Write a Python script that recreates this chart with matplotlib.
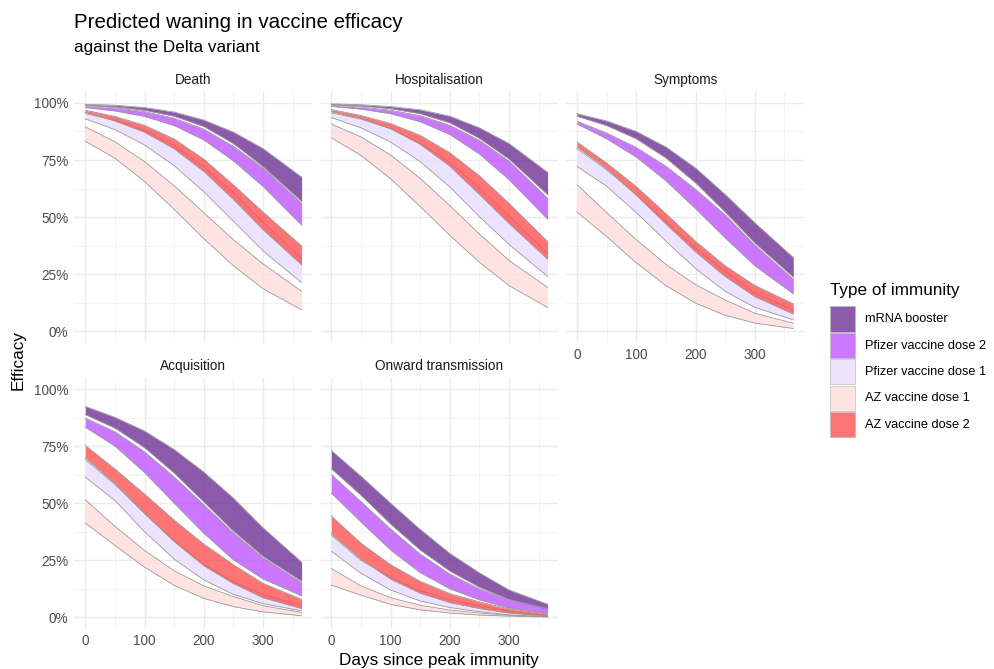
import matplotlib.pyplot as plt
from matplotlib.patches import Rectangle
from matplotlib.ticker import FixedLocator, FuncFormatter

plt.rcParams['font.family'] = ['Liberation Sans', 'DejaVu Sans']

days = [0, 50, 100, 150, 200, 250, 300, 365]

immunity = ['mRNA booster', 'Pfizer vaccine dose 2', 'Pfizer vaccine dose 1',
            'AZ vaccine dose 1', 'AZ vaccine dose 2']
fills = ['#6F3195', '#BF55FF', '#EADDFF', '#FFDDDD', '#FF5252']

outcomes = ['Death', 'Hospitalisation', 'Symptoms', 'Acquisition', 'Onward transmission']

# upper / lower bounds (%), rows in the order of `immunity`
death_hi = [[99.4, 99.0, 98.0, 96.0, 92.5, 87.2, 80.0, 67.5],
            [98.8, 97.9, 96.2, 93.3, 88.5, 81.0, 71.5, 56.1],
            [95.3, 92.4, 87.9, 81.3, 72.1, 60.8, 47.7, 32.0],
            [89.5, 83.0, 74.3, 63.7, 51.9, 40.1, 29.5, 17.5],
            [96.8, 94.1, 90.2, 84.2, 75.4, 64.1, 52.2, 37.4]]
death_lo = [[99.1, 98.3, 96.8, 94.2, 89.7, 82.2, 72.1, 56.9],
            [98.0, 96.5, 94.1, 90.1, 83.8, 74.6, 63.4, 46.5],
            [93.0, 88.3, 81.6, 72.5, 61.1, 48.2, 35.2, 21.3],
            [83.2, 75.8, 65.6, 53.4, 40.6, 28.7, 18.6, 9.4],
            [95.9, 92.1, 87.2, 79.9, 70.0, 57.7, 44.5, 29.1]]

hosp_hi = [[99.6, 99.2, 98.4, 97.0, 94.2, 89.1, 82.2, 69.6],
           [99.0, 98.2, 96.8, 94.4, 90.2, 83.6, 74.5, 58.3],
           [95.6, 92.9, 88.7, 82.5, 73.9, 62.9, 50.5, 34.2],
           [90.8, 85.1, 77.2, 67.0, 55.0, 42.6, 31.0, 19.2],
           [97.1, 94.5, 91.0, 85.8, 78.2, 68.1, 56.0, 39.3]]
hosp_lo = [[99.3, 98.7, 97.5, 95.3, 91.3, 84.5, 75.4, 59.8],
           [98.5, 97.3, 95.3, 91.8, 86.2, 77.6, 66.4, 49.1],
           [93.6, 89.1, 82.9, 74.3, 63.2, 50.2, 38.0, 24.0],
           [84.7, 77.0, 66.8, 54.6, 42.0, 30.2, 20.0, 10.4],
           [96.2, 93.2, 88.7, 81.9, 72.3, 59.9, 47.2, 31.6]]

symp_hi = [[95.3, 92.1, 87.5, 80.7, 71.5, 59.9, 47.5, 32.3],
           [92.0, 86.8, 80.5, 72.3, 62.2, 51.0, 37.8, 22.8],
           [80.0, 70.7, 59.9, 48.0, 36.4, 26.3, 16.8, 9.4],
           [64.2, 52.0, 40.1, 29.3, 20.4, 13.7, 7.9, 3.5],
           [82.9, 73.7, 63.4, 51.5, 39.4, 28.7, 20.1, 12.0]]
symp_lo = [[94.2, 90.1, 84.3, 75.9, 65.0, 52.2, 38.7, 23.7],
           [90.8, 84.3, 76.3, 65.9, 53.7, 40.9, 28.7, 16.4],
           [72.2, 63.5, 52.0, 39.5, 27.5, 17.5, 10.5, 5.0],
           [52.2, 41.5, 30.0, 20.0, 12.3, 7.0, 3.6, 1.2],
           [80.7, 71.3, 59.6, 47.0, 34.8, 24.0, 15.2, 7.6]]

acq_hi = [[92.4, 87.6, 81.6, 73.5, 63.6, 52.2, 39.2, 24.2],
          [87.3, 81.3, 72.5, 61.5, 49.3, 37.0, 26.1, 15.3],
          [69.1, 58.2, 45.5, 33.6, 23.3, 15.6, 10.0, 5.4],
          [51.5, 39.9, 29.3, 20.4, 13.8, 9.1, 5.1, 2.2],
          [75.3, 65.0, 54.0, 42.6, 32.1, 23.1, 14.9, 7.9]]
acq_lo = [[88.8, 82.9, 74.3, 63.2, 50.5, 37.8, 26.7, 15.9],
          [83.3, 75.0, 63.4, 50.0, 36.8, 25.2, 16.8, 9.5],
          [61.4, 51.2, 37.5, 25.5, 16.4, 10.1, 6.0, 2.9],
          [41.3, 31.5, 22.0, 14.0, 8.3, 4.7, 2.4, 0.7],
          [69.9, 58.7, 45.5, 33.2, 22.6, 14.8, 8.6, 3.9]]

onward_hi = [[73.1, 61.8, 50.0, 38.5, 28.0, 19.5, 12.0, 5.8],
             [62.6, 50.7, 38.7, 27.7, 19.0, 12.5, 7.7, 3.9],
             [36.0, 25.0, 17.4, 11.7, 7.7, 5.0, 2.8, 0.9],
             [21.4, 13.8, 8.6, 5.3, 3.2, 1.9, 0.9, 0.3],
             [44.4, 32.5, 23.1, 15.8, 10.4, 6.8, 3.7, 1.5]]
onward_lo = [[65.1, 53.5, 40.9, 29.5, 20.3, 13.2, 7.8, 3.6],
             [54.4, 41.8, 29.5, 19.6, 12.5, 7.7, 4.1, 1.7],
             [29.0, 19.3, 12.0, 7.2, 4.3, 2.5, 1.1, 0.3],
             [14.1, 9.7, 5.7, 3.3, 1.9, 1.0, 0.55, 0.15],
             [36.7, 25.5, 16.8, 10.6, 6.5, 3.9, 1.9, 0.6]]

bounds = [(death_hi, death_lo), (hosp_hi, hosp_lo), (symp_hi, symp_lo),
          (acq_hi, acq_lo), (onward_hi, onward_lo)]

fig = plt.figure(figsize=(9.95, 6.69), dpi=100)

W, H = 995, 669
lefts = [74.5, 320.5, 566.2]
pw = 237.9 / W
ph = 0.3755
bottoms = [1 - 342.7 / H, 1 - 628.8 / H]

pct = FuncFormatter(lambda v, pos: f'{v * 100:.0f}%')

for k, (name, (hi, lo)) in enumerate(zip(outcomes, bounds)):
    row, col = divmod(k, 3)
    ax = fig.add_axes([lefts[col] / W, bottoms[row], pw, ph])
    for i in range(len(immunity)):
        h = [v / 100 for v in hi[i]]
        l = [v / 100 for v in lo[i]]
        z = 2 + 2 * i
        ax.fill_between(days, l, h, color=fills[i], alpha=0.8, lw=0, zorder=z)
        ax.plot(days, h, color='#9A9A9A', lw=0.6, zorder=z + 1)
        ax.plot(days, l, color='#9A9A9A', lw=0.6, zorder=z + 1)

    ax.set_xlim(-18.25, 383.25)
    ax.set_ylim(-0.05, 1.05)
    ax.xaxis.set_major_locator(FixedLocator([0, 100, 200, 300]))
    ax.xaxis.set_minor_locator(FixedLocator([50, 150, 250, 350]))
    ax.yaxis.set_major_locator(FixedLocator([0, 0.25, 0.5, 0.75, 1]))
    ax.yaxis.set_minor_locator(FixedLocator([0.125, 0.375, 0.625, 0.875]))
    ax.yaxis.set_major_formatter(pct)
    ax.grid(which='major', color='#EBEBEB', lw=1.0, zorder=0)
    ax.grid(which='minor', color='#F0F0F0', lw=0.55, zorder=0)
    ax.set_axisbelow(True)
    for s in ax.spines.values():
        s.set_visible(False)
    ax.tick_params(which='both', length=0, labelsize=9.8, labelcolor='#4D4D4D')
    ax.tick_params(axis='y', pad=4.5)
    ax.tick_params(axis='x', pad=4)
    if col != 0:
        ax.tick_params(axis='y', labelleft=False)
    if not (row == 1 or col == 2):
        ax.tick_params(axis='x', labelbottom=False)
    ax.set_title(name, fontsize=9.8, color='#1A1A1A', pad=5.6)

fig.text(74.5 / W, 1 - 28.5 / H, 'Predicted waning in vaccine efficacy',
         fontsize=14.8, va='baseline', ha='left')
fig.text(74.5 / W, 1 - 52 / H, 'against the Delta variant',
         fontsize=12.3, va='baseline', ha='left')
fig.text(439 / W, 1 - 665 / H, 'Days since peak immunity',
         fontsize=12.3, va='baseline', ha='center')
fig.text(18 / W, 1 - 360 / H, 'Efficacy', fontsize=12.3, rotation=90,
         va='center', ha='center')

# legend
fig.text(830 / W, 1 - 295 / H, 'Type of immunity', fontsize=12.3,
         va='baseline', ha='left')
key_top, key_step = 306.0, 26.4
for i, lab in enumerate(immunity):
    top = key_top + i * key_step
    fig.patches.append(Rectangle((829.5 / W, 1 - (top + 25.6) / H), 25.5 / W, 25.2 / H,
                                 transform=fig.transFigure, facecolor=fills[i],
                                 alpha=0.8, edgecolor='#BBBBBB', lw=0.6))
    fig.text(865 / W, 1 - (top + 13.2) / H, lab, fontsize=9.2,
             va='center', ha='left')

fig.savefig('out.png', dpi=100)
